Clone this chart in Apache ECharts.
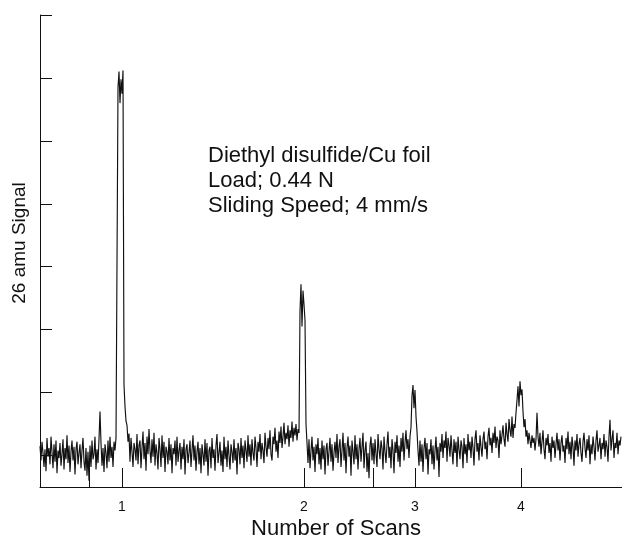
<!DOCTYPE html>
<html>
<head>
<meta charset="utf-8">
<script src="https://cdn.jsdelivr.net/npm/echarts@6/dist/echarts.min.js"></script>
<style>html,body{margin:0;padding:0;background:#fff}#c{width:622px;height:549px}</style>
</head>
<body>
<div id="c"></div>
<script>
// 26 amu signal, one sample every 0.5 s (arbitrary units, 100 per y tick)
const sampleStep = 0.5;
const signal = [
  15, -8, 22, 4, -18, 10, -25, 28, -2, 12, -14, 30, 6, -20, 18, -10, 24, -28, 8, -4,
  20, -16, 2, 26, -22, 12, -6, 32, -12, 16, -26, 6, 24, -8, 14, -30, 10, 22, -14, 4,
  18, -20, 8, 28, -10, -24, 12, -32, 6, -40, 16, -18, 24, -6, 2, 30, -22, 10, -12, 26,
  70, 20, -16, 12, -26, 18, 4, -20, 24, -10, 30, -4, 14, -18, 22, 8, 28,
  30,
  585, 610, 560, 598, 575, 612,
  112,
  78, 55, 48, 22, 35,
  -10, 28, 6, -18, 20, 10, -8, 34, -14, 16,
  24, -20, 12, 38, -6, 20, -24, 30, 2, 42, 8, -12, 26, -2, 36, -16, 18, 4, -22, 28,
  10, -18, 32, -4, 22, -26, 14, 6, -14, 28, -8, 18, -28, 12, 2, 24, -16, 30, -10, 8,
  20, -22, 14, -6, 26, -30, 10, 18, -12, 4, 24, -18, 8, 32, -8, 16, -24, 6, 22, -14,
  12, -28, 18, 2, -16, 26, -10, 20, -32, 8, 14, -20, 28, -4, 10, -24, 16, 34, -12, 4,
  22, -16, 8, -26, 30, -6, 14, -18, 24, 0, -22, 18, 6, -12, 26, -8, 12, -30, 20, 10,
  -14, 28, -4, 16, -20, 24, 8, -10, 32, -2, 18, -16, 26, 4, -8, 30, 12, -18, 22, 6,
  34, -6, 20, 8, -12, 36, 14, -2, 28, 10, 40, 2, -8, 30, 18, 44, 6, 24, -4, 38,
  20, 46, 12, 30, 52, 18, 36, 26, 48, 14, 40, 28, 54, 22, 44, 32, 50, 24, 42, 36,
  230, 272, 205, 262, 240, 215,
  50,
  20, -12, 26, -20, 8, 30, -8, 14, -26, 18, 2, 28, -14,
  12, -22, 24, -6, 16, -30, 10, 20, -16, 6, 28, -10, 18, -24, 4, 22, -4, 34, -12, 14,
  26, -18, 8, 36, -8, 20, -28, 12, 30, -2, 16, -32, 24, 6, -14, 32, -6, 18, -22, 10,
  28, -10, 14, 36, -20, 8, 22, -26, 4, -36, 16, 30, -8, 20, -14, 26, 2, -18, 34, 10,
  -6, 24, 12, -22, 30, 6, -12, 18, 38, -4, 14, -20, 26, 8, -28, 22, 4, 32, -10, 16,
  -18, 28, 6, 36, -8, 20, 40, 10, 26, -4, 30,
  45,
  95, 112, 75, 104, 62,
  38,
  8, -16, 24, -10, 18, -26, 12, 28, -6, 20, -30, 10, 2, 26, -14, 16, -22, 8, 30, -8, 14, -34,
  20, 6, 34, -4, 24, 12, 38, -10, 28, 16, -2, 32, 8, -14, 26, 4, 22, -18, 30, 10,
  -6, 24, 14, -20, 28, 2, 18, -12, 34, 8, 22, -4, 30, 12, -16, 26, 40, 6, 20, -8,
  32, 14, -2, 26, 38, 10, 22, -6, 30, 44, 16, 28, 4, 36, 20, 46, 12, 30, 24, -4,
  40, 18, 32, 48, 26, 14, 52, 34, 22, 58, 40, 30, 62, 28, 50, 44, 68,
  88, 110, 78, 118, 96, 105, 70,
  45, 58, 30, 40, 18, 36, 24, 12, 32, 20, 28, 8, 26,
  68,
  30, 14, 36, 2, 22, 40, 10, -6, 28, 16, 34, 4, 20, -10, 30, 12, 24, -4, 18, 36, 8, 26,
  -8, 20, 32, 6, 16, -12, 28, 10, 38, 2, 22, -6, 30, 14, -16, 24, 8, 34, -2, 18,
  28, 4, -10, 22, 36, 12, -4, 26, 8, 32, -14, 18, 2, 30, 14, -8, 24, 40, 6, 16,
  28, -6, 20, 10, 34, -2, 24, 14, -10, 30, 57, 8, 26, 40, -4, 20, 12, 36, 2, 24, 16, 30
];
// x tick positions (seconds) and labelled scan positions
const xTickTimes = [24.5, 41, 132, 166.5, 187.5, 240.5];
const scanTimes = [41, 132, 187.5, 240.5];
const scanLabels = ['1', '2', '3', '4'];
const yTickValues = [0, 100, 200, 300, 400, 500, 600, 700];
const annotation = ['Diethyl disulfide/Cu foil', 'Load; 0.44 N', 'Sliding Speed; 4 mm/s'];
const xTitle = 'Number of Scans';
const yTitle = '26 amu Signal';

const data = signal.map((v, i) => [i * sampleStep, v]);
const font = 'Liberation Sans, Arial, Helvetica, sans-serif';

const chart = echarts.init(document.getElementById('c'), null, {renderer: 'canvas'});
chart.setOption({
  animation: false,
  backgroundColor: '#fff',
  grid: {left: 40, top: 15, right: 0, bottom: 62},
  xAxis: {
    type: 'value', min: 0, max: 291,
    axisLine: {show: true, onZero: false, lineStyle: {color: '#111', width: 1}},
    axisTick: {show: true, inside: true, length: 19, customValues: xTickTimes, lineStyle: {color: '#111'}},
    axisLabel: {
      show: true, customValues: scanTimes, margin: 13,
      fontFamily: font, fontSize: 14, color: '#111',
      formatter: v => { const k = scanTimes.indexOf(v); return k >= 0 ? scanLabels[k] : ''; }
    },
    splitLine: {show: false}
  },
  yAxis: {
    type: 'value', min: -50, max: 700,
    axisLine: {show: true, onZero: false, lineStyle: {color: '#111', width: 1}},
    axisTick: {show: true, inside: true, length: 12, customValues: yTickValues, lineStyle: {color: '#111'}},
    axisLabel: {show: false},
    splitLine: {show: false}
  },
  graphic: [
    {type: 'text', left: 208, top: 143,
     style: {text: annotation.join('\n'), font: '22px ' + font, lineHeight: 25, fill: '#111'}},
    {type: 'text', x: 336, y: 529,
     style: {text: xTitle, font: '22px ' + font, fill: '#111', align: 'center', verticalAlign: 'middle'}},
    {type: 'text', x: 20, y: 243, rotation: Math.PI / 2,
     style: {text: yTitle, font: '19px ' + font, fill: '#111', align: 'center', verticalAlign: 'middle'}}
  ],
  series: [{
    type: 'line', data: data, showSymbol: false, symbol: 'none',
    lineStyle: {color: '#111', width: 1.15}
  }]
});
</script>
</body>
</html>
